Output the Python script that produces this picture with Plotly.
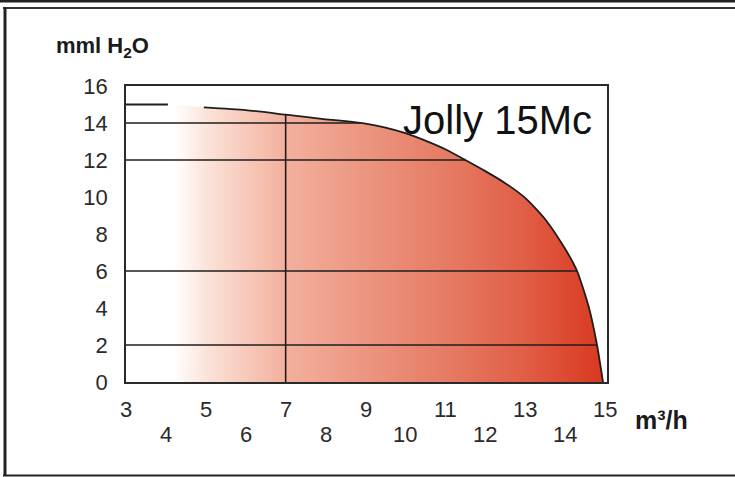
import numpy as np
import plotly.graph_objects as go

# ---- data ----
curve_x = [3.0, 4.05, 4.95, 6.0, 7.0, 8.0, 8.5, 9.0, 9.5, 10.0, 10.5, 11.0, 11.5, 12.0, 12.5, 13.0, 13.5, 14.0, 14.3, 14.6, 14.8, 14.95]
curve_y = [15.0, 15.0, 14.85, 14.7, 14.45, 14.2, 14.1, 13.97, 13.75, 13.45, 13.05, 12.58, 12.0, 11.4, 10.75, 9.95, 8.8, 7.2, 6.0, 4.0, 2.0, 0.0]
h_lines = [2, 6, 12, 14]          # horizontal reference lines (mml H2O)
v_lines = [7]                     # vertical reference line (m3/h)
x_ticks_upper = [3, 5, 7, 9, 11, 13, 15]
x_ticks_lower = [4, 6, 8, 10, 12, 14]
y_ticks = [0, 2, 4, 6, 8, 10, 12, 14, 16]
model_name = "Jolly 15Mc"
y_title = "mml H<sub>2</sub>O"
x_title = "m³/h"

# ---- geometry helpers (pixels -> paper) ----
W, H = 735, 477
L, R, T, B = 126, 128, 86, 95
PW, PH = W - L - R, H - T - B
def xp(px):
    return (px - L) / PW
def yp(py):
    return (H - B - py) / PH

NARROW = "Liberation Sans Narrow, Arial Narrow, sans-serif"
SANS = "Liberation Sans, Arial, sans-serif"
INK = "#1e1e1e"

fig = go.Figure()

# gradient-filled area under the curve
fig.add_trace(go.Scatter(
    x=curve_x, y=curve_y, mode="lines", fill="tozeroy",
    line=dict(width=0, color="rgba(0,0,0,0)", shape="spline", smoothing=0.6),
    fillgradient=dict(
        type="horizontal", start=3, stop=15,
        colorscale=[[0.0, "#ffffff"], [0.10, "#ffffff"], [0.17, "#fbe2d8"],
                    [0.33, "#f3b19e"], [0.5, "#ec9580"], [0.67, "#e67b64"],
                    [0.83, "#e15e46"], [1.0, "#d8381f"]]),
    hoverinfo="skip", showlegend=False))

# outline of the curve (with the small gap visible in the picture)
ox = curve_x[:2] + [None] + curve_x[2:]
oy = curve_y[:2] + [None] + curve_y[2:]
fig.add_trace(go.Scatter(x=ox, y=oy, mode="lines", connectgaps=False,
                         line=dict(color=INK, width=1.8, shape="spline", smoothing=0.6),
                         hoverinfo="skip", showlegend=False))

# reference lines clipped at the curve
cx = np.array(curve_x[2:])
cy = np.array(curve_y[2:])
for h in h_lines:
    xe = float(np.interp(h, cy[::-1], cx[::-1]))
    fig.add_shape(type="line", x0=3, x1=xe, y0=h, y1=h,
                  line=dict(color=INK, width=1.6), layer="above")
for v in v_lines:
    ye = float(np.interp(v, curve_x, curve_y))
    fig.add_shape(type="line", x0=v, x1=v, y0=0, y1=ye,
                  line=dict(color=INK, width=1.6), layer="above")

# outer frame lines
fig.add_shape(type="rect", xref="paper", yref="paper",
              x0=xp(0), x1=xp(W), y0=yp(0), y1=yp(2.5),
              fillcolor="#222", line=dict(width=0))
fig.add_shape(type="line", xref="paper", yref="paper",
              x0=xp(3), x1=xp(W), y0=yp(8), y1=yp(8),
              line=dict(color="#333", width=2))
fig.add_shape(type="line", xref="paper", yref="paper",
              x0=xp(5), x1=xp(5), y0=yp(7), y1=yp(476),
              line=dict(color="#222", width=3))
fig.add_shape(type="line", xref="paper", yref="paper",
              x0=xp(3), x1=xp(W), y0=yp(475.5), y1=yp(475.5),
              line=dict(color="#222", width=2))

# x tick labels in two staggered rows
for v in x_ticks_upper:
    fig.add_annotation(x=v, xref="x", y=yp(409), yref="paper", text=str(v),
                       showarrow=False, xanchor="center", yanchor="middle",
                       font=dict(family=NARROW, size=22, color="#2a2a2a"))
for v in x_ticks_lower:
    fig.add_annotation(x=v, xref="x", y=yp(434), yref="paper", text=str(v),
                       showarrow=False, xanchor="center", yanchor="middle",
                       font=dict(family=NARROW, size=22, color="#2a2a2a"))

# titles
fig.add_annotation(x=xp(633), y=yp(420), xref="paper", yref="paper", text=x_title,
                   showarrow=False, xanchor="left", yanchor="middle",
                   font=dict(family=SANS, size=25, color="#1a1a1a", weight="bold"))
fig.add_annotation(x=xp(54), y=yp(47), xref="paper", yref="paper", text=y_title,
                   showarrow=False, xanchor="left", yanchor="middle",
                   font=dict(family=SANS, size=22, color="#1a1a1a", weight="bold"))
fig.add_annotation(x=xp(594), y=yp(120), xref="paper", yref="paper", text=model_name,
                   showarrow=False, xanchor="right", yanchor="middle",
                   font=dict(family=SANS, size=40, color="#111111"))

fig.update_xaxes(range=[3, 15.05], showgrid=False, zeroline=False,
                 showticklabels=False, ticks="",
                 showline=True, mirror=True, linecolor="#2a2a2a", linewidth=1.6)
fig.update_yaxes(range=[0, 16], showgrid=False, zeroline=False,
                 tickvals=y_ticks, ticktext=[str(v) for v in y_ticks], ticks="",
                 ticklabelstandoff=12,
                 tickfont=dict(family=NARROW, size=22, color="#2a2a2a"),
                 showline=True, mirror=True, linecolor="#2a2a2a", linewidth=1.6)

fig.update_layout(width=W, height=H, margin=dict(l=L, r=R, t=T, b=B),
                  paper_bgcolor="white", plot_bgcolor="white", showlegend=False)

fig.write_html("out.html", config={"displayModeBar": False},
               post_script="document.body.style.margin='0';document.body.style.overflow='hidden';")
